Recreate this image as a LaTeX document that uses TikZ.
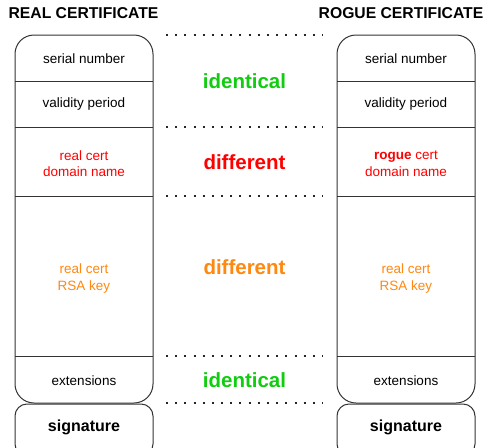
\documentclass[tikz,border=0pt]{standalone}
\usepackage{fontspec}
\setmainfont{Liberation Sans}
\definecolor{lbgreen}{HTML}{11CC11}
\definecolor{lbred}{HTML}{FF0000}
\definecolor{lborange}{HTML}{FF8811}
\definecolor{lbline}{HTML}{333333}
\begin{document}
\begin{tikzpicture}[x=1pt,y=-1pt,
  field/.style={font=\fontsize{13.5}{16.5}\selectfont, align=center, text=black},
  header/.style={font=\fontsize{15.7}{18}\selectfont\bfseries, text=black},
  verdict/.style={font=\fontsize{20.5}{24}\selectfont\bfseries},
  sig/.style={font=\fontsize{16}{19}\selectfont\bfseries},
  boxline/.style={draw=lbline, line width=1pt},
  dotline/.style={line width=2pt, dash pattern=on 2pt off 7.18pt, black!85}]
\clip (0,0) rectangle (491,448);
\useasboundingbox (0,0) rectangle (491,448);
\fill[white] (0,0) rectangle (491,448);

% headers
\node[header] (hl) at (83.5,13.5) {REAL CERTIFICATE};
\node[header] (hr) at (401,13.5) {ROGUE CERTIFICATE};

% left certificate
\draw[boxline, rounded corners=19pt] (15,35) rectangle (153,403);
\draw[boxline] (15,81) -- (153,81);
\draw[boxline] (15,127) -- (153,127);
\draw[boxline] (15,196) -- (153,196);
\draw[boxline] (15,356) -- (153,356);
\draw[boxline, rounded corners=12pt] (15,404) rectangle (153,456);

% right certificate
\draw[boxline, rounded corners=19pt] (337,35) rectangle (475,403);
\draw[boxline] (337,81) -- (475,81);
\draw[boxline] (337,127) -- (475,127);
\draw[boxline] (337,196) -- (475,196);
\draw[boxline] (337,356) -- (475,356);
\draw[boxline, rounded corners=12pt] (337,404) rectangle (475,456);

% left fields
\node[field] (l1) at (84,58.5) {serial number};
\node[field] (l2) at (84,104) {validity period};
\node[field, text=lbred] (l3) at (84,163.5) {real cert\\domain name};
\node[field, text=lborange] (l4) at (84,278.5) {real cert\\RSA key};
\node[field] (l5) at (84,381) {extensions};
\node[sig] (l6) at (84,427) {signature};

% right fields
\node[field] (r1) at (406,58.5) {serial number};
\node[field] (r2) at (406,104) {validity period};
\node[field, text=lbred] (r3) at (406,163.5) {\textbf{rogue} cert\\domain name};
\node[field, text=lborange] (r4) at (406,278.5) {real cert\\RSA key};
\node[field] (r5) at (406,381) {extensions};
\node[sig] (r6) at (406,427) {signature};

% dotted separators
\coordinate (d1a) at (166,35);  \coordinate (d1b) at (323,35);
\coordinate (d2a) at (166,127); \coordinate (d2b) at (323,127);
\coordinate (d3a) at (166,196); \coordinate (d3b) at (323,196);
\coordinate (d4a) at (166,356); \coordinate (d4b) at (323,356);
\coordinate (d5a) at (166,403); \coordinate (d5b) at (323,403);
\draw[dotline] (d1a) -- (d1b);
\draw[dotline] (d2a) -- (d2b);
\draw[dotline] (d3a) -- (d3b);
\draw[dotline] (d4a) -- (d4b);
\draw[dotline] (d5a) -- (d5b);

% verdicts
\node[verdict, text=lbgreen] (v1) at (244.5,81) {identical};
\node[verdict, text=lbred] (v2) at (244.5,162) {different};
\node[verdict, text=lborange] (v3) at (244.5,267) {different};
\node[verdict, text=lbgreen] (v4) at (244.5,380.5) {identical};
\end{tikzpicture}
\end{document}
